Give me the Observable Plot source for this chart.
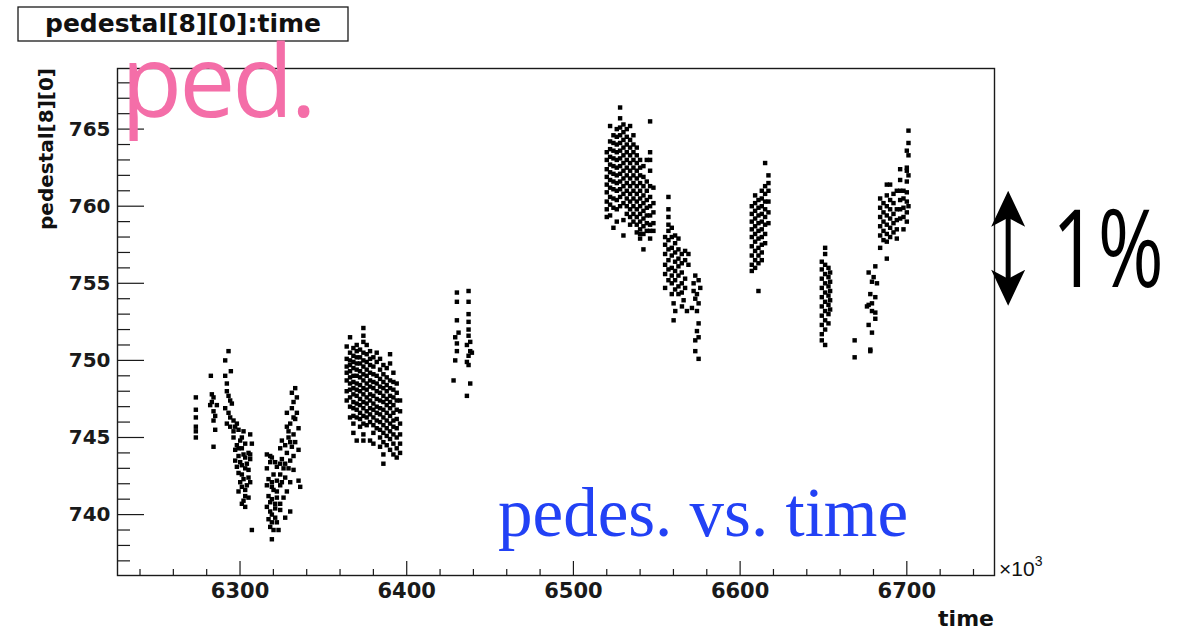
<!DOCTYPE html>
<html><head><meta charset="utf-8">
<script src="https://cdn.jsdelivr.net/npm/d3@7"></script>
<script src="https://cdn.jsdelivr.net/npm/@observablehq/plot@0.6"></script>
<style>
html,body{margin:0;padding:0;background:#fff;overflow:hidden}
#chart svg{display:block}
</style></head><body><div id="chart"></div>
<script>
// ---------- axis / tick values (time in units of 10^3) ----------
const xDomain = [6226.5, 6752.6];
const yDomain = [736.05, 768.93];
const xMajor = [6300, 6400, 6500, 6600, 6700];
const xMinor = d3.range(6240, 6741, 20).filter(v => v % 100 !== 0);
const yMajor = [740, 745, 750, 755, 760, 765];
const yMinor = d3.range(737, 769, 1).filter(v => v % 5 !== 0);

// ---------- data: [time, pedestal] pairs ----------
const run1a = [
[6273.5,747.6],[6273.5,746.8],[6273.5,746.3],[6273.5,745.7],[6273.5,745.4],[6273.5,745.0],
[6293.1,750.6],[6291.1,750.0],[6294.5,749.3],[6282.5,749.0],[6291.1,749.0],[6292.1,748.5],
[6292.1,748.0],[6283.1,747.8],[6284.1,747.6],[6283.1,747.3],[6294.1,747.4],[6295.1,747.2],
[6284.1,746.7],[6285.1,746.4],[6293.1,746.6],[6294.1,746.3],[6296.1,746.1],[6284.1,746.1],
[6292.1,745.9],[6298.1,745.9],[6297.1,745.7],[6285.1,745.5],[6299.1,745.5],[6306.1,745.2],
[6296.1,745.0],[6300.1,744.8],[6307.1,744.6],[6298.1,744.5],[6284.1,744.4],[6301.1,744.3],
[6297.1,744.2],[6305.1,744.0],[6299.1,743.8],[6303.1,743.7],[6306.1,743.6],[6300.1,743.4],
[6304.1,743.3],[6298.1,743.1],[6303.1,743.0],[6301.1,742.6],[6305.1,742.4],[6300.1,742.1],
[6304.1,741.9],[6299.1,741.5],[6303.1,741.2],[6302.1,740.9],[6303.1,740.5],[6307.1,739.0],
[6296.1,745.4],[6302.1,745.4],[6301.1,745.0],[6303.1,744.6],[6299.1,744.3],[6302.1,743.9],
[6297.1,743.5],[6306.1,743.9],[6301.1,743.2],[6299.1,742.7],[6305.1,742.9],[6302.1,742.3],
[6306.1,742.1],[6301.1,741.8],[6303.1,741.6],[6305.1,741.1],[6301.1,740.7],[6294.1,745.7],
[6291.1,746.9],[6293.1,747.7],[6286.1,747.1],[6282.1,747.1]
];
const run1b = [
[6333.1,748.2],[6331.1,747.9],[6332.1,747.3],[6328.1,746.6],[6334.1,746.6],[6333.1,746.2],
[6330.1,745.9],[6328.1,745.7],[6335.1,745.6],[6332.1,745.2],[6329.1,745.0],[6325.1,744.8],
[6333.1,744.7],[6327.1,744.5],[6331.1,744.4],[6324.1,744.3],[6335.1,744.2],[6328.1,744.0],
[6316.1,743.9],[6332.1,743.8],[6319.1,743.7],[6325.1,743.6],[6330.1,743.5],[6318.1,743.4],
[6327.1,743.3],[6322.1,743.1],[6316.1,743.0],[6329.1,743.0],[6332.1,742.9],[6324.1,742.6],
[6317.1,742.3],[6327.1,742.4],[6319.1,742.1],[6330.1,742.1],[6335.1,742.2],[6336.1,741.8],
[6316.1,741.9],[6324.1,741.9],[6320.1,741.6],[6328.1,741.5],[6317.1,741.2],[6322.1,741.1],
[6318.1,740.8],[6324.1,740.7],[6316.1,740.5],[6321.1,740.4],[6330.1,740.2],[6319.1,740.0],
[6327.1,739.8],[6317.1,739.7],[6322.1,739.5],[6318.1,739.2],[6320.1,739.0],[6323.1,739.0],
[6319.1,738.4],[6318.1,743.8],[6321.1,743.4],[6324.1,743.3],[6326.1,743.0],[6320.1,742.6],
[6322.1,742.2],[6325.1,742.1],[6319.1,741.8],[6322.1,741.5],[6326.1,741.1],[6319.1,741.0],
[6321.1,740.7],[6318.1,740.2],[6324.1,740.3],[6321.1,739.8],[6319.1,739.5],[6330.1,744.7],
[6329.1,745.4],[6332.1,746.3],[6331.1,746.9],[6334.1,747.6]
];
// ---------- data: [time, [pedestal values]] columns ----------
const run2 = [
[6364,[750.9,750.1,749.6,749.2,748.7,748.0,747.4]],
[6366,[751.5,750.5,750.0,749.7,749.3,748.9,748.5,748.1,747.6,747.0,746.3]],
[6368,[750.8,750.3,749.9,749.5,749.0,748.6,748.2,747.8,747.3,746.9,746.4,745.9,745.3]],
[6370,[751.0,750.6,750.2,749.8,749.4,749.0,748.5,748.1,747.7,747.2,746.8,746.3,744.8]],
[6372,[750.7,750.2,749.8,749.3,748.9,748.4,748.0,747.5,747.1,746.6,746.2,745.7]],
[6374,[752.1,751.6,751.2,750.5,750.0,749.6,749.1,748.7,748.2,747.8,747.3,746.9,746.4,745.9,745.2,744.8]],
[6376,[751.0,750.4,749.9,749.4,749.0,748.5,748.1,747.6,747.2,746.7,746.3,745.8]],
[6378,[750.6,750.1,749.7,749.2,748.7,748.3,747.8,747.4,746.9,746.5,746.0,744.8]],
[6380,[750.2,749.6,749.1,748.6,748.2,747.7,747.2,746.8,746.3,745.8,745.3,744.6]],
[6382,[750.5,749.9,749.0,748.5,748.0,747.5,747.0,746.6,746.1,745.6]],
[6384,[750.1,749.4,748.8,748.3,747.9,747.4,746.9,746.5,746.0,745.5,745.0,744.4]],
[6386,[749.7,749.1,748.6,748.2,747.7,747.3,746.8,746.3,745.8,745.3,744.7,743.9,743.3]],
[6388,[749.5,748.9,748.4,748.0,747.5,747.1,746.6,746.1,745.6,745.1,744.5]],
[6390,[750.4,749.8,748.7,748.2,747.7,747.3,746.9,746.4,745.9,745.4,744.9,744.2]],
[6392,[749.2,748.6,748.1,747.6,747.1,746.6,746.1,745.7,745.2,744.6,743.9]],
[6394,[748.5,747.9,747.4,746.8,746.2,745.6,745.0,744.3,743.7]],
[6396,[747.4,746.7,745.9,745.2,744.6,744.0]]
];
const run3 = [
[6430.1,754.4],[6437.1,754.5],[6430.1,753.8],[6437.1,753.8],[6437.1,753.0],[6430.1,752.6],
[6437.1,752.5],[6437.1,752.0],[6429.1,751.5],[6430.1,751.1],[6437.1,751.6],[6438.1,751.2],
[6438.1,750.6],[6437.1,750.3],[6436.1,749.9],[6429.1,750.0],[6439.1,750.5],[6428.1,748.7],
[6438.1,748.5],[6436.1,747.7],[6430.1,750.6],[6437.1,749.7],[6431.1,751.8],[6436.1,751.0]
];
const run4a = [
[6520,[763.5,763.0,762.4,761.9,761.4,760.9,760.3,759.8,759.3]],
[6522,[765.2,764.2,763.7,763.2,762.7,762.2,761.7,761.2,760.6,760.1,759.4]],
[6524,[764.6,764.1,763.6,763.1,762.6,762.1,761.6,761.1,760.5,759.9,758.6]],
[6526,[765.0,764.5,764.0,763.5,763.0,762.5,762.0,761.5,761.0,760.4,759.8,759.0]],
[6528,[766.4,765.7,765.1,764.6,764.1,763.6,763.1,762.6,762.1,761.6,761.1,760.6,760.0]],
[6530,[765.3,764.8,764.3,763.8,763.3,762.8,762.3,761.8,761.3,760.8,760.2,759.1,758.1]],
[6532,[765.0,764.5,764.0,763.5,763.0,762.5,762.0,761.5,761.0,760.5,760.0,759.5]],
[6534,[765.2,764.3,763.8,763.3,762.8,762.3,761.8,761.3,760.8,760.3,759.8,759.3,758.8]],
[6536,[764.6,764.0,763.5,763.0,762.5,762.0,761.5,761.0,760.5,760.0,759.5,759.0]],
[6538,[763.8,763.3,762.8,762.3,761.8,761.3,760.8,760.3,759.8,759.3,758.8,758.3]],
[6540,[763.0,762.5,762.0,761.5,761.0,760.5,760.0,759.5,759.0,758.5,757.9,758.2]],
[6542,[762.6,761.9,761.3,760.7,760.2,759.7,759.2,758.7,758.2,757.2]],
[6544,[763.0,761.6,761.0,760.4,759.9,759.4,758.9,758.4]],
[6546,[765.5,763.5,763.0,762.3,761.3,760.6,760.0,759.4,758.8,758.4,757.9]],
[6548,[761.2,760.2,759.6,758.9,758.4]]
];
const run4b = [
[6555,[758.0,757.5,756.9,756.2,755.6,754.7]],
[6557,[760.6,759.8,759.3,758.8,758.4,757.8,757.2,756.5,755.9,755.2]],
[6559,[758.6,758.0,757.3,756.8,756.0,755.5,755.0,754.3]],
[6561,[758.1,757.6,757.0,756.4,755.8,755.2,754.6]],
[6563,[757.9,757.2,756.6,756.1,755.5,754.8,754.3]],
[6565,[756.9,756.3,755.7,755.0,754.4]],
[6567,[757.1,756.5,755.3,754.7]],
[6569,[756.9,756.2]]
];
const run4c = [
[6573.1,755.5],[6575.1,755.2],[6572.1,755.0],[6576.1,754.7],[6572.1,754.5],[6574.1,754.3],
[6573.1,754.0],[6575.1,753.7],[6571.1,753.4],[6574.1,753.2],[6560.1,753.7],[6561.1,753.2],
[6566.1,753.9],[6568.1,753.2],[6565.1,753.5],[6575.1,752.4],[6574.1,751.9],[6575.1,751.5],
[6573.1,751.3],[6573.1,750.6],[6575.1,750.1],[6560.1,752.6]
];
const run5 = [
[6607,[760.0,759.5,759.0,758.5,758.0,757.4,756.8,756.2,755.8]],
[6609,[760.7,760.2,759.7,759.2,758.7,758.2,757.7,757.1,756.5,756.0]],
[6611,[760.4,759.9,759.4,758.9,758.4,757.9,757.3,756.8,756.3,754.5]],
[6613,[761.0,760.5,760.0,759.5,759.0,758.5,758.0,757.5,757.0,756.5]],
[6615,[762.8,761.3,760.8,760.3,759.8,759.3,758.8,758.2,757.6]],
[6617,[762.0,761.5,761.0,760.3,759.6,758.9]]
];
const run6 = [
[6649,[756.4,755.9,755.3,754.7,754.1,753.5,752.9,752.3,751.7,751.3]],
[6651,[757.3,756.9,756.2,755.6,755.0,754.4,753.8,753.2,752.6,752.0,751.0]],
[6653,[756.0,755.4,754.8,754.2,753.6,753.0,752.4]],
[6654,[755.7,755.1,754.5,753.9,753.3]]
];
const run7 = [
[6668.7,751.3],[6668.7,750.2],[6678.1,750.7],[6678.1,750.6],[6679.1,751.8],[6677.1,752.3],
[6681.1,752.7],[6679.1,753.2],[6681.1,753.1],[6677.1,753.6],[6679.1,753.7],[6681.1,754.1],
[6679.1,755.1],[6677.1,755.7],[6681.1,756.1],[6682.1,755.0],[6680.1,755.4],[6678.1,754.3],
[6676.1,753.5]
];
const run8 = [
[6684,[760.5,759.9,759.3,758.7,758.1,757.3]],
[6686,[760.2,759.6,759.0,758.4,757.8]],
[6688,[761.4,760.7,760.0,759.4,758.8,758.2,757.7,756.6]],
[6690,[761.4,760.4,759.8,759.2,758.6,758.0]],
[6692,[760.8,760.2,759.5,758.9,758.3]],
[6694,[761.0,759.8,759.1,758.5,757.9]],
[6696,[762.4,761.7,761.0,760.4,759.8,759.2]],
[6698,[761.0,760.5,759.9,759.3,758.5]],
[6700,[763.6,762.5,762.3,761.6,760.9,760.3,759.6,759.0]],
[6701,[764.9,764.1,763.3,762.0,760.0]]
];
// 1% annotation arrow: span of ~1% of the pedestal (about 7.5 counts)
const arrowTime = 6760.8;
const arrowSpan = [753.55, 761.0];

// ---------- build ----------
const fromPairs = a => a.map(([t, v]) => ({time: t, ped: v}));
const fromCols = a => a.flatMap(([t, vs]) => vs.map(v => ({time: t, ped: v})));
const points = [
  ...fromPairs(run1a), ...fromPairs(run1b), ...fromCols(run2), ...fromPairs(run3),
  ...fromCols(run4a), ...fromCols(run4b), ...fromPairs(run4c), ...fromCols(run5),
  ...fromCols(run6), ...fromPairs(run7), ...fromCols(run8)
];

const W = 1203, H = 632;
const M = {top: 68, right: 209, bottom: 57, left: 117};
const innerW = W - M.left - M.right;
const innerH = H - M.top - M.bottom;
const axisColor = "#1a1a1a";

const arrowHead = {
  draw(context, size) {
    const s = Math.sqrt(size / Math.PI) / 10;
    context.moveTo(0, 0);
    context.lineTo(17 * s, 36 * s);
    context.lineTo(0, 27 * s);
    context.lineTo(-17 * s, 36 * s);
    context.closePath();
  }
};
const arrowTips = [
  {time: arrowTime, ped: arrowSpan[1], rot: 0},
  {time: arrowTime, ped: arrowSpan[0], rot: 180}
];

const chart = Plot.plot({
  width: W, height: H,
  marginTop: M.top, marginRight: M.right, marginBottom: M.bottom, marginLeft: M.left,
  x: {domain: xDomain},
  y: {domain: yDomain},
  style: {fontFamily: "'DejaVu Sans', sans-serif", background: "#fff", color: axisColor},
  marks: [
    Plot.ruleY(yMinor, {insetRight: innerW - 13, stroke: axisColor, strokeWidth: 1.2}),
    Plot.ruleY(yMajor, {insetRight: innerW - 27, stroke: axisColor, strokeWidth: 1.2}),
    Plot.ruleX(xMinor, {insetTop: innerH - 6, stroke: axisColor, strokeWidth: 1.2}),
    Plot.ruleX(xMajor, {insetTop: innerH - 14, stroke: axisColor, strokeWidth: 1.2}),
    Plot.frame({stroke: axisColor, strokeWidth: 1.4}),
    Plot.axisY({ticks: yMajor, tickSize: 0, tickPadding: 7, fontSize: 20, fontWeight: "bold", label: null, tickFormat: "d"}),
    Plot.axisX({ticks: xMajor, tickSize: 0, tickPadding: 8, fontSize: 21, fontWeight: "bold", label: null, tickFormat: "d"}),
    Plot.dot(points, {x: "time", y: "ped", symbol: "square", r: 2.5, fill: "#000"}),
    Plot.ruleX([{time: arrowTime, y1: arrowSpan[0] + 1.2, y2: arrowSpan[1] - 1.2}],
      {x: "time", y1: "y1", y2: "y2", stroke: "#000", strokeWidth: 5}),
    Plot.dot(arrowTips, {x: "time", y: "ped", rotate: "rot", symbol: arrowHead, r: 10, fill: "#000"})
  ]
});
document.getElementById("chart").appendChild(chart);

// ---------- annotations / titles ----------
const svg = d3.select(chart);
const g = svg.append("g").attr("text-anchor", "start");
g.append("rect").attr("x", 18).attr("y", 7).attr("width", 330).attr("height", 34)
  .attr("fill", "#fff").attr("stroke", axisColor).attr("stroke-width", 1.3);
g.append("text").attr("x", 183).attr("y", 32).attr("text-anchor", "middle")
  .attr("font-family", "'DejaVu Sans', sans-serif").attr("font-weight", "bold").attr("font-size", 25)
  .attr("fill", "#111").text("pedestal[8][0]:time");
g.append("text").attr("transform", "translate(53,68) rotate(-90)").attr("text-anchor", "end")
  .attr("font-family", "'DejaVu Sans', sans-serif").attr("font-weight", "bold").attr("font-size", 20)
  .attr("fill", "#111").text("pedestal[8][0]");
g.append("text").attr("x", 994).attr("y", 626).attr("text-anchor", "end")
  .attr("font-family", "'DejaVu Sans', sans-serif").attr("font-weight", "bold").attr("font-size", 22)
  .attr("fill", "#111").text("time");
const ex = g.append("text").attr("x", 999).attr("y", 576).attr("text-anchor", "start")
  .attr("font-family", "'Liberation Sans', sans-serif").attr("font-size", 21).attr("fill", "#111");
ex.append("tspan").text("×10");
ex.append("tspan").attr("dy", -10).attr("font-size", 14).text("3");
g.append("text").attr("x", 121).attr("y", 117).attr("text-anchor", "start")
  .attr("font-family", "'Open Sans', sans-serif").attr("font-size", 100).attr("letter-spacing", -3)
  .attr("fill", "#f46ea8").text("ped.");
g.append("text").attr("x", 498).attr("y", 536).attr("text-anchor", "start")
  .attr("font-family", "'Liberation Serif', serif").attr("font-size", 69)
  .attr("fill", "#2241f5").text("pedes. vs. time");
g.append("text").attr("transform", "translate(1052,287) scale(0.74,1)").attr("text-anchor", "start")
  .attr("font-family", "'Open Sans', sans-serif").attr("font-size", 108)
  .attr("fill", "#000").text("1%");
</script>
</body></html>
